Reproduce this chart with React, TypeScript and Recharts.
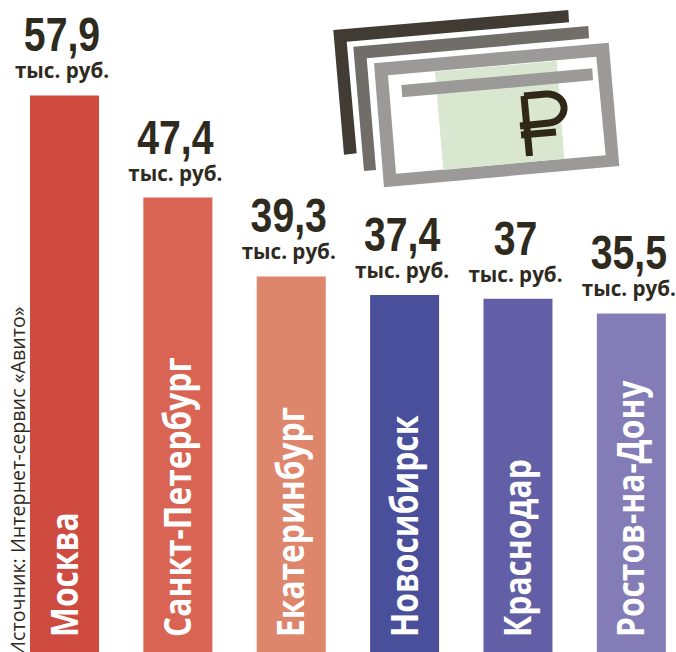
import React from 'react';
import { BarChart, Bar, XAxis, YAxis, Cell, LabelList } from 'recharts';

const cities = ['Москва', 'Санкт-Петербург', 'Екатеринбург', 'Новосибирск', 'Краснодар', 'Ростов-на-Дону'];
const values = [57.9, 47.4, 39.3, 37.4, 37, 35.5];
const colors = ['#cf4a3f', '#d96453', '#dd866c', '#4a4f9c', '#635fa6', '#837cb6'];
const unit = 'тыс. руб.';
const source = 'Источник: Интернет-сервис «Авито»';
const data = cities.map((city, i) => ({ city, value: values[i] }));

const ink = '#2f2a1e';
const openSans = '"Open Sans", sans-serif';

const ValueLabel = (p: any) => {
  const cx = p.x + p.width / 2 - 2.5;
  return (
    <g>
      <text transform={`translate(${cx},${p.y - 44}) scale(0.8,1)`} textAnchor="middle" fontFamily='"Liberation Sans", sans-serif' fontWeight={700} fontSize={49} fill={ink}>
        {String(p.value).replace('.', ',')}
      </text>
      <text x={cx} y={p.y - 17} textAnchor="middle" fontFamily={openSans} fontWeight={700} fontSize={20.6} fill={ink}>
        {unit}
      </text>
    </g>
  );
};

const CityLabel = (p: any) => {
  const cx = p.x + p.width / 2 + 13;
  const by = p.y + p.height - 22;
  return (
    <text transform={`translate(${cx},${by}) rotate(-90) scale(0.835,1)`} fontFamily={openSans} fontWeight={700} fontSize={38} fill="#ffffff">
      {p.value}
    </text>
  );
};

const Icon = () => (
  <svg width={676} height={652} style={{ position: 'absolute', left: 0, top: 0, pointerEvents: 'none' }}>
    <polygon points="333.3,30 568.3,10 569,22.3 346.7,41.7 356.7,153.3 344,154.7" fill="#403b33" />
    <polygon points="353.3,46.7 588.3,26 589,38.3 366.7,58.3 376,170 364,171" fill="#716d69" />
    <polygon points="374,63.3 608.7,42.7 619.3,166 384,187.3" fill="#9c9a98" />
    <polygon points="388,75.3 596.3,56.7 605.7,155.3 396,173.7" fill="#ffffff" />
    <polygon points="435,71.7 556.7,61 564.3,158.7 443.3,170" fill="#d9e6d0" />
    <polygon points="401.3,85 592.3,68.3 593,80.3 402.3,97.3" fill="#9c9a98" />
    <g fill="none" stroke="#2f2819" strokeWidth={7}>
      <path d="M524 96 L529.5 156" />
      <path d="M524 96 L546 94 A 16.5 14.5 -5 0 1 549 123 L 520 126" />
      <path d="M521 135 L556 132" />
    </g>
    <text transform="translate(25,656) rotate(-90)" fontFamily={openSans} fontSize={19.7} fill={ink}>
      {source}
    </text>
  </svg>
);

export default function App() {
  return (
    <div style={{ position: 'absolute', left: 0, top: 0, width: 676, height: 652, overflow: 'hidden', background: '#fff' }}>
      <BarChart
        width={690}
        height={659}
        data={data}
        barCategoryGap={22.2}
        margin={{ top: 0, right: 2, bottom: 0, left: 7.8 }}
      >
        <XAxis dataKey="city" hide />
        <YAxis hide domain={[0, 67.7]} />
        <Bar dataKey="value" isAnimationActive={false}>
          {data.map((d, i) => (
            <Cell key={d.city} fill={colors[i]} />
          ))}
          <LabelList dataKey="value" content={ValueLabel} />
          <LabelList dataKey="city" content={CityLabel} />
        </Bar>
      </BarChart>
      <Icon />
    </div>
  );
}
